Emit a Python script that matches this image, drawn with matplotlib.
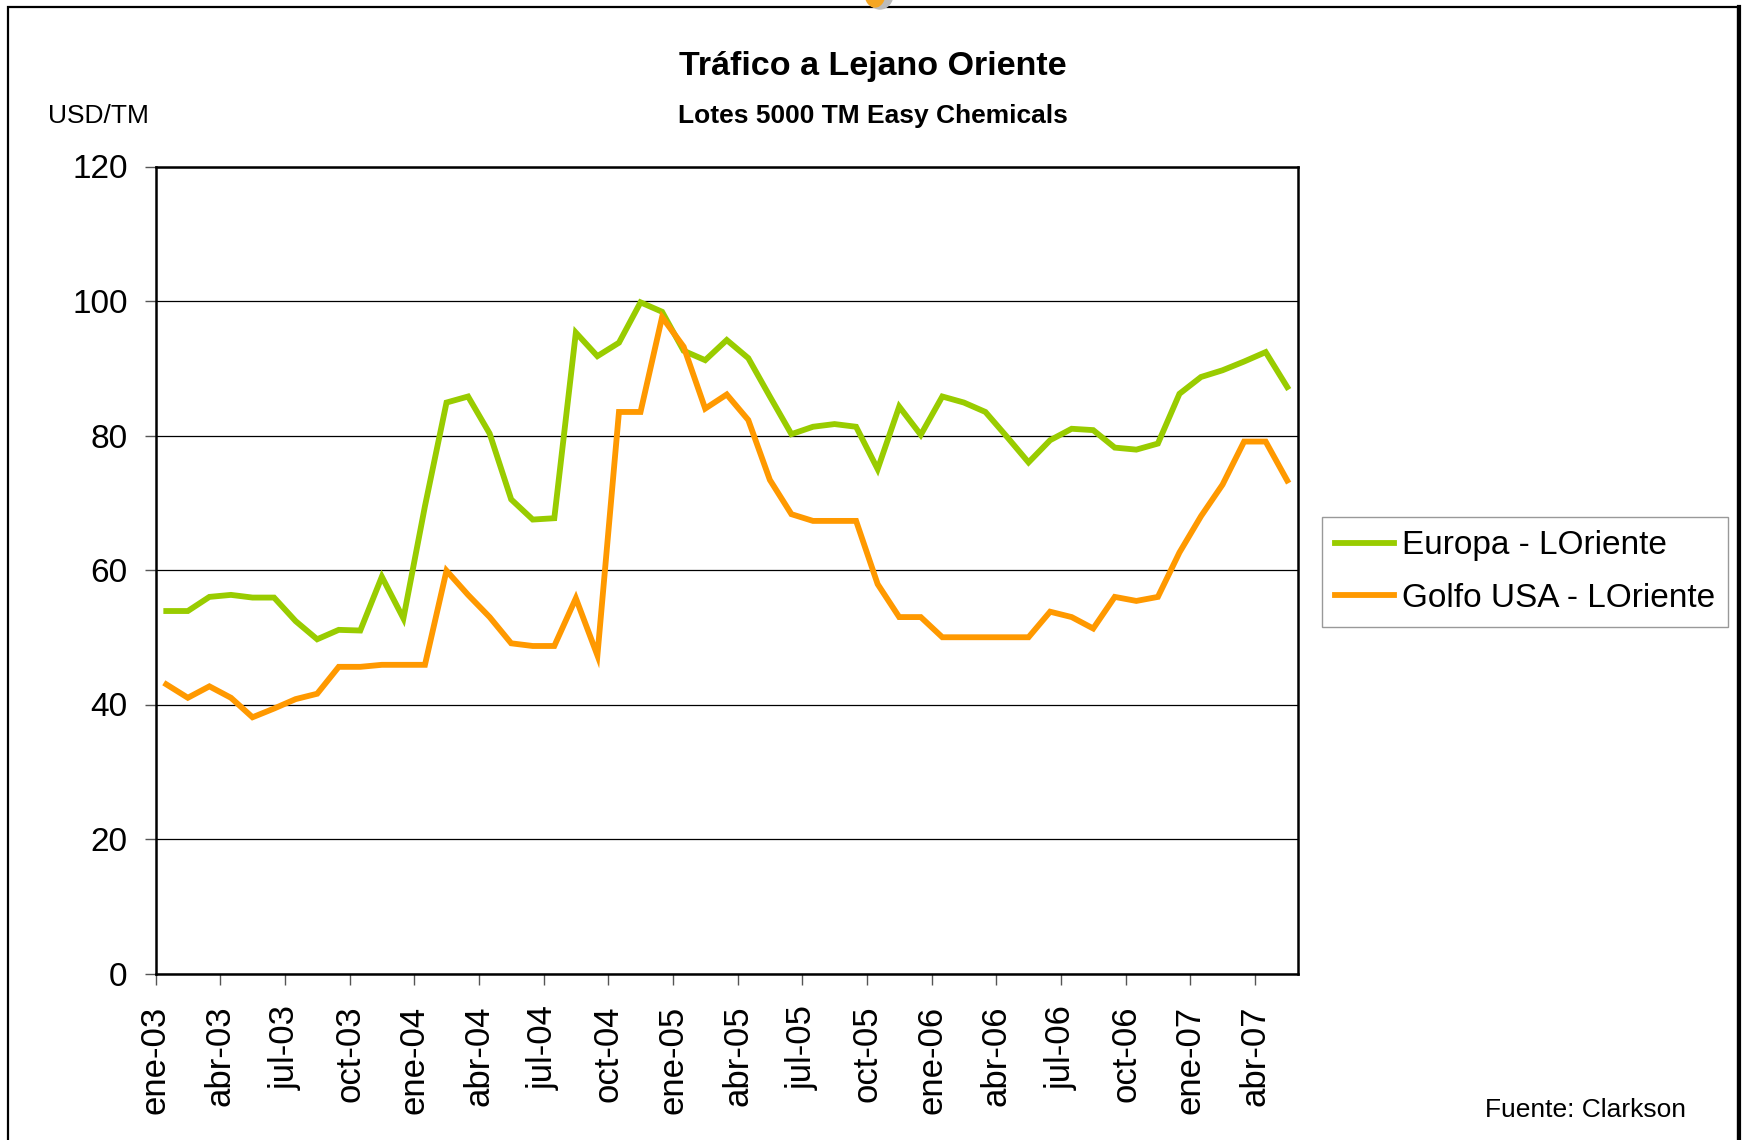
import numpy as np
import matplotlib
matplotlib.use("Agg")
import matplotlib.pyplot as plt
from matplotlib.patches import Rectangle, Ellipse
from matplotlib.lines import Line2D

plt.rcParams['font.family'] = ['Liberation Sans', 'DejaVu Sans']

# monthly values, ene-03 .. may-07 (USD/TM)
europa = [53.9, 53.9, 56.0, 56.3, 55.9, 55.9, 52.4, 49.7, 51.1, 51.0,
          59.0, 52.8, 69.5, 84.9, 85.8, 80.3, 70.5, 67.5, 67.7, 95.3,
          91.8, 93.8, 99.8, 98.4, 92.6, 91.2, 94.2, 91.5, 85.8, 80.2,
          81.3, 81.7, 81.3, 75.0, 84.3, 80.1, 85.8, 84.9, 83.5, 79.8,
          76.0, 79.3, 81.0, 80.8, 78.2, 77.9, 78.8, 86.2, 88.7, 89.7,
          91.0, 92.4, 87.2]
golfo = [43.0, 41.0, 42.7, 41.0, 38.1, 39.4, 40.8, 41.6, 45.6, 45.6,
         45.9, 45.9, 45.9, 59.9, 56.3, 53.0, 49.1, 48.7, 48.7, 55.8,
         47.3, 83.5, 83.5, 97.6, 93.2, 84.0, 86.1, 82.3, 73.4, 68.3,
         67.3, 67.3, 67.3, 57.9, 53.0, 53.0, 50.0, 50.0, 50.0, 50.0,
         50.0, 53.8, 53.0, 51.3, 56.0, 55.4, 56.0, 62.6, 68.0, 72.7,
         79.1, 79.1, 73.3]
tick_labels = ['ene-03', 'abr-03', 'jul-03', 'oct-03',
               'ene-04', 'abr-04', 'jul-04', 'oct-04',
               'ene-05', 'abr-05', 'jul-05', 'oct-05',
               'ene-06', 'abr-06', 'jul-06', 'oct-06',
               'ene-07', 'abr-07']
series_names = ['Europa - LOriente', 'Golfo USA - LOriente']
colors = ['#99CC00', '#FF9900']

W, H = 1743, 1140
fig = plt.figure(figsize=(W / 100, H / 100), dpi=100)
ax = fig.add_axes([155.5 / W, 1 - 973.5 / H, (1298 - 155.5) / W, (973.5 - 166.5) / H])

n = len(europa)
x = np.arange(n) + 0.5  # points sit in the middle of each month
ax.plot(x, europa, color=colors[0], lw=4.2, label=series_names[0], solid_joinstyle='miter')
ax.plot(x, golfo, color=colors[1], lw=4.2, label=series_names[1], solid_joinstyle='miter')

ax.set_xlim(0, n)
ax.set_ylim(0, 120)
ax.set_yticks(np.arange(0, 121, 20))
ax.set_xticks(np.arange(0, 3 * len(tick_labels), 3))
ax.set_xticklabels(tick_labels, rotation=90)
ax.tick_params(axis='both', labelsize=24, length=8, width=1, color='#555555', direction='out', pad=12)
ax.tick_params(axis='x', labelsize=25, pad=15)
ax.yaxis.grid(True, color='black', lw=0.9)
ax.set_axisbelow(True)
for s in ax.spines.values():
    s.set_linewidth(1.8)
    s.set_color('black')

leg = ax.legend(loc='upper left', bbox_to_anchor=(1322 / W, 1 - 517 / H), bbox_transform=fig.transFigure,
                borderaxespad=0, fontsize=24, frameon=True, fancybox=False, edgecolor='#808080',
                borderpad=0.4, labelspacing=0.65, handlelength=1.75, handletextpad=0.25)
leg.get_frame().set_linewidth(1.0)

fig.text(873 / W, 1 - 66 / H, 'Tráfico a Lejano Oriente', ha='center', va='center',
         fontsize=24.5, fontweight='bold')
fig.text(873 / W, 1 - 116 / H, 'Lotes 5000 TM Easy Chemicals', ha='center', va='center',
         fontsize=19, fontweight='bold')
fig.text(48 / W, 1 - 116 / H, 'USD/TM', ha='left', va='center', fontsize=19)
fig.text(1485 / W, 1 - 1110 / H, 'Fuente: Clarkson', ha='left', va='center', fontsize=19)

# outer frame and the bit of logo peeking at the top
fig.patches.append(Rectangle((8 / W, -0.05), (1738 - 8) / W, 1.05 - 7 / H, transform=fig.transFigure,
                             fill=False, edgecolor='black', lw=1.6))
fig.lines.append(Line2D([1739 / W, 1739 / W], [-0.05, 1 - 7 / H], transform=fig.transFigure,
                        color='black', lw=3))
fig.patches.append(Ellipse((880 / W, 1 + 6 / H), 26 / W, 30 / H, transform=fig.transFigure,
                           color='#BBBBBB'))
fig.patches.append(Ellipse((875 / W, 1 + 7 / H), 20 / W, 28 / H, transform=fig.transFigure,
                           color='#F5A623'))

fig.savefig('out.png', dpi=100)
